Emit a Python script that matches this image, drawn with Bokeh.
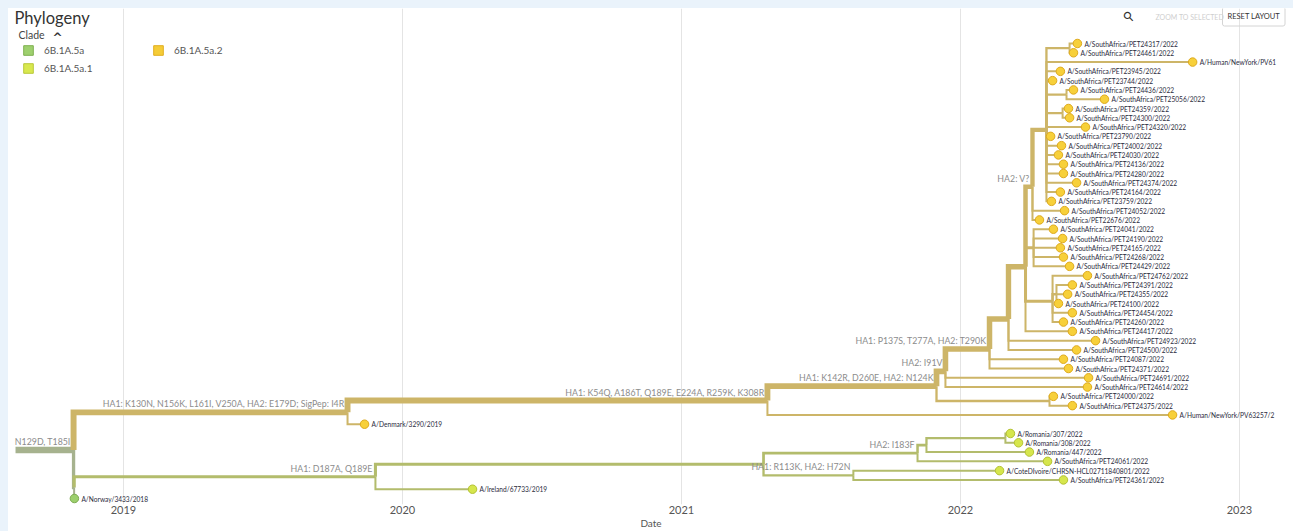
import math
from bokeh.plotting import figure
from bokeh.layouts import column, row
from bokeh.models import Range1d, FixedTicker, Label, Legend, LegendItem, Spacer
from bokeh.embed import file_html
from bokeh.resources import INLINE
from bokeh.core.properties import value

# ---------------- data ----------------
clade_names = ["6B.1A.5a", "6B.1A.5a.1", "6B.1A.5a.2"]
clade_root_nodes = ["root", "B", "A"]
year_ticks = [2019, 2020, 2021, 2022, 2023]

node_name = [
    "root", "N1", "A", "C", "I", "J", "L", "M", "P", "Q", "Z1", "E1",
    "A/SouthAfrica/PET24317/2022", "A/SouthAfrica/PET24461/2022",
    "A/Human/NewYork/PV61", "A/SouthAfrica/PET23945/2022", "A/SouthAfrica/PET23744/2022",
    "n67", "A/SouthAfrica/PET24436/2022", "A/SouthAfrica/PET25056/2022",
    "n89", "A/SouthAfrica/PET24359/2022", "A/SouthAfrica/PET24300/2022",
    "A/SouthAfrica/PET24320/2022", "A/SouthAfrica/PET23790/2022",
    "A/SouthAfrica/PET24002/2022", "A/SouthAfrica/PET24030/2022",
    "A/SouthAfrica/PET24136/2022", "A/SouthAfrica/PET24280/2022",
    "A/SouthAfrica/PET24374/2022", "A/SouthAfrica/PET24164/2022",
    "A/SouthAfrica/PET23759/2022",
    "A/SouthAfrica/PET24052/2022", "A/SouthAfrica/PET22676/2022",
    "O", "A/SouthAfrica/PET24041/2022", "A/SouthAfrica/PET24190/2022",
    "A/SouthAfrica/PET24165/2022", "A/SouthAfrica/PET24268/2022",
    "A/SouthAfrica/PET24429/2022",
    "N", "A/SouthAfrica/PET24762/2022",
    "n2729", "A/SouthAfrica/PET24391/2022", "A/SouthAfrica/PET24355/2022",
    "A/SouthAfrica/PET24100/2022",
    "A/SouthAfrica/PET24454/2022", "A/SouthAfrica/PET24260/2022",
    "A/SouthAfrica/PET24417/2022",
    "A/SouthAfrica/PET24923/2022", "A/SouthAfrica/PET24500/2022",
    "A/SouthAfrica/PET24087/2022", "A/SouthAfrica/PET24371/2022",
    "A/SouthAfrica/PET24691/2022", "A/SouthAfrica/PET24614/2022",
    "K", "A/SouthAfrica/PET24000/2022", "A/SouthAfrica/PET24375/2022",
    "A/Human/NewYork/PV63257/2",
    "A/Denmark/3290/2019",
    "X", "B", "D", "E", "G", "H", "A/Romania/307/2022", "A/Romania/308/2022",
    "A/Romania/447/2022", "A/SouthAfrica/PET24061/2022",
    "F", "A/CoteDIvoire/CHRSN-HCL02711840801/2022", "A/SouthAfrica/PET24361/2022",
    "A/Ireland/67733/2019",
    "A/Norway/3433/2018",
]

node_parent = [
    None, "root", "N1", "A", "C", "I", "J", "L", "M", "P", "Q", "Z1",
    "E1", "E1",
    "Z1", "Z1", "Z1",
    "Z1", "n67", "n67",
    "Z1", "n89", "n89",
    "Z1", "Z1",
    "Z1", "Z1",
    "Z1", "Z1",
    "Z1", "Z1",
    "Z1",
    "Q", "Q",
    "P", "O", "O",
    "O", "O",
    "O",
    "P", "N",
    "N", "n2729", "n2729",
    "n2729",
    "N", "N",
    "P",
    "M", "M",
    "L", "L",
    "J", "J",
    "I", "K", "K",
    "C",
    "A",
    "N1", "X", "B", "D", "E", "G", "H", "H",
    "G", "E",
    "D", "F", "F",
    "B",
    "X",
]

node_date = [
    2018.613, 2018.821, 2019.803, 2021.308, 2021.914, 2021.946, 2022.104, 2022.172,
    2022.233, 2022.258, 2022.308, 2022.391,
    2022.419, 2022.405,
    2022.832, 2022.358, 2022.330,
    2022.380, 2022.405, 2022.516,
    2022.366, 2022.387, 2022.391,
    2022.448, 2022.323,
    2022.362, 2022.351,
    2022.369, 2022.369,
    2022.416, 2022.358,
    2022.326,
    2022.373, 2022.283,
    2022.262, 2022.333, 2022.366,
    2022.358, 2022.369,
    2022.391,
    2022.330, 2022.455,
    2022.344, 2022.401, 2022.384,
    2022.351,
    2022.401, 2022.369,
    2022.401,
    2022.484, 2022.416,
    2022.369, 2022.387,
    2022.459, 2022.455,
    2022.319, 2022.333, 2022.401,
    2022.760,
    2019.864,
    2018.823, 2019.903, 2021.294, 2021.846, 2021.878, 2022.161, 2022.179, 2022.208,
    2022.247, 2022.312,
    2021.616, 2022.140, 2022.369,
    2020.251,
    2018.824,
]

branch_label_node = ["N1", "A", "B", "C", "I", "J", "L", "Q", "E", "F"]
branch_label_text = [
    "N129D, T185I",
    "HA1: K130N, N156K, L161I, V250A, HA2: E179D; SigPep: I4R",
    "HA1: D187A, Q189E",
    "HA1: K54Q, A186T, Q189E, E224A, R259K, K308R",
    "HA1: K142R, D260E, HA2: N124K",
    "HA2: I91V",
    "HA1: P137S, T277A, HA2: T290K",
    "HA2: V?",
    "HA2: I183F",
    "HA1: R113K, HA2: H72N",
]

# ---------------- styles ----------------
branch_colors = ["#a6b28e", "#b3bc6c", "#cdb568"]
tip_fill = ["#9ccf6c", "#d6e64c", "#f7d03a"]
tip_line = ["#7daa52", "#b3c233", "#deaa1e"]
legend_fill = ["#9ed06e", "#d8e84e", "#f5cc37"]
legend_line = ["#7fb04f", "#b9c83a", "#e0ae20"]
FONT = "Lato"
PAGE_BG = "#eaf3fb"

# ---------------- tree layout (internal node = mean of its children) ----------------
date = dict(zip(node_name, node_date))
children = {n: [] for n in node_name}
for n, par in zip(node_name, node_parent):
    if par is not None:
        children[par].append(n)

ypos, ntips = {}, {}
counter = [0]


def layout(n):
    if not children[n]:
        ypos[n] = counter[0]
        counter[0] += 1
        ntips[n] = 1
        return 1
    cnt = sum(layout(c) for c in children[n])
    ypos[n] = sum(ypos[c] for c in children[n]) / len(children[n])
    ntips[n] = cnt
    return cnt


layout("root")

clade_of = {}
for n, par in zip(node_name, node_parent):
    clade_of[n] = clade_root_nodes.index(n) if n in clade_root_nodes else clade_of[par]

# ---------------- figure ----------------
OFF = 8                    # light-blue strip at top and left
W, H = 1293 - OFF, 531 - OFF
BOTTOM = 27
FB = OFF + H - BOTTOM      # page y of frame bottom
spacing = 455.0 / 49.0     # px per tip row
y_top = (OFF - 43) / spacing
y_bot = (FB - 43) / spacing
px_per_year = 279.0
x0 = 2019 + (OFF - 123) / px_per_year
x1 = x0 + W / px_per_year

p = figure(width=W, height=H, output_backend="svg", toolbar_location=None,
           x_range=Range1d(x0, x1), y_range=Range1d(y_bot, y_top),
           y_axis_location=None, min_border_left=0, min_border_right=0,
           min_border_top=0, min_border_bottom=BOTTOM)
p.outline_line_color = None
p.background_fill_color = "white"
p.border_fill_color = "white"
p.ygrid.visible = False
p.xgrid.ticker = FixedTicker(ticks=year_ticks)
p.xgrid.grid_line_color = "#e4e4e4"
ax = p.xaxis[0]
ax.ticker = FixedTicker(ticks=year_ticks)
ax.axis_line_color = None
ax.major_tick_line_color = None
ax.minor_tick_line_color = None
ax.major_tick_out = 0
ax.major_tick_in = 0
ax.minor_tick_out = 0
ax.major_label_standoff = 1
ax.major_label_text_font = FONT
ax.major_label_text_font_size = "11px"
ax.major_label_text_color = "#555555"
ax.axis_label = "Date"
ax.axis_label_standoff = 0
ax.axis_label_text_font = FONT
ax.axis_label_text_font_size = "10px"
ax.axis_label_text_font_style = "normal"
ax.axis_label_text_color = "#555555"

# branches (preorder: parents drawn first)
bx, by, bw, bc = [], [], [], []
for n, par in zip(node_name, node_parent):
    if par is None:
        continue
    bx.append([date[par], date[par], date[n]])
    by.append([ypos[par], ypos[n], ypos[n]])
    bw.append(1.3 + 0.72 * math.sqrt(ntips[n]))
    bc.append(branch_colors[clade_of[n]])
p.multi_line(xs=bx, ys=by, line_width=bw, line_color=bc, line_join="miter", line_cap="butt")

# tips
tips = [n for n in node_name if not children[n]]
p.scatter(x=[date[t] for t in tips], y=[ypos[t] for t in tips], size=8.5,
          fill_color=[tip_fill[clade_of[t]] for t in tips],
          line_color=[tip_line[clade_of[t]] for t in tips], line_width=1)
p.text(x=[date[t] for t in tips], y=[ypos[t] for t in tips], text=tips,
       x_offset=7, text_baseline="middle", text_align="left",
       text_font=value(FONT), text_font_size="6.6px", text_color="#2a2a3c")

# branch labels
p.text(x=[date[n] for n in branch_label_node], y=[ypos[n] for n in branch_label_node],
       text=branch_label_text, x_offset=-3, y_offset=-3, text_align="right",
       text_baseline="bottom", text_font=value(FONT), text_font_size="8.8px",
       text_color="#8c8c8c")

# legend (quads with NaN data so that only the legend swatch shows)
nan = float("nan")
legend_items = []
for i, cname in enumerate(clade_names):
    r = p.quad(left=[nan], right=[nan], top=[nan], bottom=[nan], fill_color=legend_fill[i],
               line_color=legend_line[i], line_width=1)
    legend_items.append(LegendItem(label=cname, renderers=[r]))
leg = Legend(items=legend_items, location=(22 - OFF, FB - 74), orientation="vertical",
             nrows=2, glyph_width=12, glyph_height=12, label_standoff=10, label_width=102,
             spacing=6, padding=0, margin=0, border_line_color=None,
             background_fill_alpha=0, label_text_font=FONT, label_text_font_size="10px",
             label_text_color="#555555", label_height=12)
p.add_layout(leg, "center")


def add_label(text, px, py, size, color, style="normal", align="left", font=FONT, **kw):
    p.add_layout(Label(x=px - OFF, y=FB - py, x_units="screen", y_units="screen", text=text,
                       text_font=font, text_font_size=size, text_color=color,
                       text_font_style=style, text_align=align, text_baseline="middle", **kw))


add_label("Phylogeny", 14, 17, "16.5px", "#333333")
add_label("Clade", 18, 34, "10.5px", "#444444")
add_label("^", 52, 37, "12px", "#333333", style="bold", font="DejaVu Sans")
add_label("\u26b2", 1128, 16, "13px", "#333333", style="bold", font="DejaVu Sans",
          align="center", angle=0.785)
add_label("ZOOM TO SELECTED", 1155, 16, "7px", "#cfcfcf")
add_label("RESET LAYOUT", 1222, 16, "7.5px", "#333333", border_line_color="#d4d4d4",
          padding=5, border_radius=2)

page = column(Spacer(width=1293, height=OFF, styles={"background-color": PAGE_BG}),
              row(Spacer(width=OFF, height=H, styles={"background-color": PAGE_BG}), p,
                  spacing=0),
              spacing=0)

open("out.html", "w").write(file_html(page, INLINE))
